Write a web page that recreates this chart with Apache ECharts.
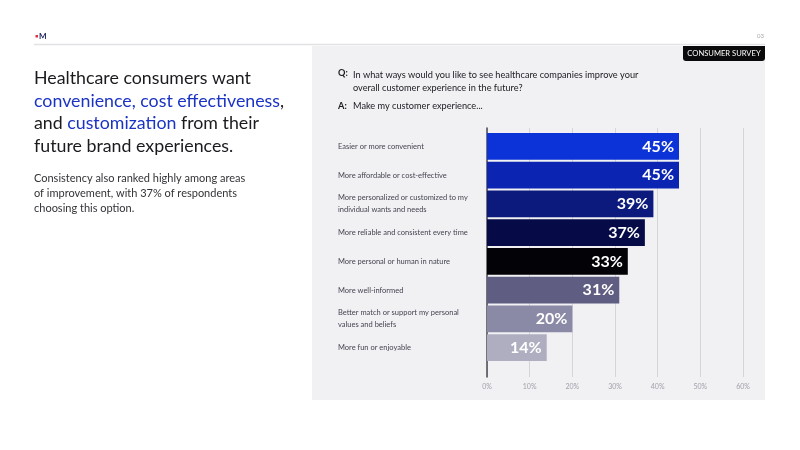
<!DOCTYPE html>
<html style="height: 100%">
<head>
    <meta charset="utf-8">
    <script src="https://cdn.jsdelivr.net/npm/echarts@6/dist/echarts.min.js"></script>
    <title>Consumer Survey</title>
</head>
<body style="height: 100%; margin: 0; background: #fff">
<div id="container" style="width: 800px; height: 450px"></div>
<script type="text/javascript">
let categories = [
    'Easier or more convenient',
    'More affordable or cost-effective',
    'More personalized or customized to my\nindividual wants and needs',
    'More reliable and consistent every time',
    'More personal or human in nature',
    'More well-informed',
    'Better match or support my personal\nvalues and beliefs',
    'More fun or enjoyable'
]
let values = [45, 45, 39, 37, 33, 31, 20, 14]
let axisTicks = [0, 10, 20, 30, 40, 50, 60]

// one colour per bar, top to bottom
let barColors = ['#0b33d8', '#0b24b2', '#0c1a7e', '#060b47', '#020207', '#5f5e82', '#8a8aa7', '#aeaec0']

let font = 'Lato'

let chart = echarts.init(document.getElementById('container'))
chart.setOption({
    backgroundColor: '#ffffff',
    textStyle: {fontFamily: font},
    grid: [
        // bars
        {left: 487, right: 57, top: 132, bottom: 88},
        // axis + split lines
        {left: 487, right: 57, top: 128, bottom: 73}
    ],
    xAxis: [
        {gridIndex: 0, type: 'value', min: axisTicks[0], max: axisTicks[axisTicks.length - 1], show: false},
        {
            gridIndex: 1, type: 'value',
            min: axisTicks[0], max: axisTicks[axisTicks.length - 1], interval: 10,
            axisLine: {show: false}, axisTick: {show: false},
            axisLabel: {formatter: '{value}%', color: '#a0a0a8', fontSize: 7, margin: 6, fontFamily: font},
            splitLine: {lineStyle: {color: '#d4d4da', width: 1}}
        }
    ],
    yAxis: [
        {
            gridIndex: 0, type: 'category', data: categories, inverse: true,
            axisLine: {show: false}, axisTick: {show: false},
            axisLabel: {align: 'left', margin: 149, color: '#444450', fontSize: 7.5, lineHeight: 12, fontFamily: font}
        },
        {
            gridIndex: 1, type: 'value', min: 0, max: 1,
            axisLine: {show: true, lineStyle: {color: '#48484f', width: 1.5}},
            axisTick: {show: false}, axisLabel: {show: false}, splitLine: {show: false}
        }
    ],
    series: [{
        type: 'bar',
        xAxisIndex: 0, yAxisIndex: 0,
        barCategoryGap: '7%',
        data: values.map((v, i) => ({value: v, itemStyle: {color: barColors[i]}})),
        label: {
            show: true, position: 'insideRight', distance: 5,
            formatter: '{c}%', color: '#fff', fontSize: 16, fontWeight: 'bold', fontFamily: font
        },
        silent: true
    }],
    graphic: [
        // grey panel behind chart
        {type: 'rect', z: -100, shape: {x: 312, y: 46, width: 453, height: 354}, style: {fill: '#f1f1f4'}},
        {type: 'line', shape: {x1: 34, y1: 44.5, x2: 765, y2: 44.5}, style: {stroke: '#e2e2e6', lineWidth: 1.5}},
        // logo
        {type: 'text', x: 39, y: 32, style: {text: 'M', fill: '#1a1f5c', font: 'bold 8px ' + font}},
        {type: 'rect', shape: {x: 35.5, y: 35, width: 2.5, height: 2.5}, style: {fill: '#e0303a'}},
        {type: 'text', x: 757, y: 33, style: {text: '03', fill: '#a8a8ae', font: '6px ' + font}},
        // consumer survey tag
        {type: 'rect', shape: {x: 683, y: 46, width: 82, height: 15, r: [0, 0, 3, 3]}, style: {fill: '#0a0a0c'}},
        {type: 'text', x: 724, y: 53.5, style: {text: 'CONSUMER SURVEY', fill: '#fff', font: '7.6px ' + font, align: 'center', verticalAlign: 'middle'}},
        // headline
        {
            type: 'text', x: 34, y: 67,
            style: {
                text: '{a|Healthcare consumers want}\n{b|convenience, cost effectiveness}{a|,}\n{a|and }{b|customization}{a| from their}\n{a|future brand experiences.}',
                rich: {
                    a: {fontSize: 17.8, fontFamily: font, fill: '#1a1a1f', lineHeight: 22.7},
                    b: {fontSize: 17.8, fontFamily: font, fill: '#1b33c4', lineHeight: 22.7}
                }
            }
        },
        {
            type: 'text', x: 34, y: 171,
            style: {
                text: 'Consistency also ranked highly among areas\nof improvement, with 37% of respondents\nchoosing this option.',
                font: '11px ' + font, fill: '#333338', lineHeight: 15
            }
        },
        // question
        {type: 'text', x: 338, y: 68.5, style: {text: 'Q:', font: 'bold 9.2px ' + font, fill: '#1a1a1f'}},
        {
            type: 'text', x: 353, y: 68.5,
            style: {
                text: 'In what ways would you like to see healthcare companies improve your\noverall customer experience in the future?',
                font: '9.2px ' + font, fill: '#1a1a1f', lineHeight: 13
            }
        },
        {type: 'text', x: 338, y: 101.5, style: {text: 'A:', font: 'bold 9.2px ' + font, fill: '#1a1a1f'}},
        {type: 'text', x: 353, y: 101.5, style: {text: 'Make my customer experience...', font: '9.2px ' + font, fill: '#1a1a1f'}}
    ]
}, true)
</script>
</body>
</html>
